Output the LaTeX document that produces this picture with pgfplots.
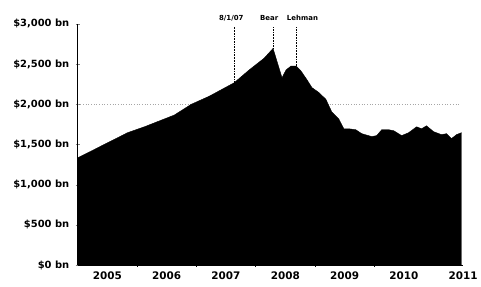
\documentclass[border=0pt]{standalone}
\usepackage{pgfplots}
\pgfplotsset{compat=1.18}
\usepackage{fontspec}
\setmainfont{DejaVu Sans}
\begin{document}
\begin{tikzpicture}
\begin{axis}[
  scale only axis,
  width=387bp, height=242bp,
  xmin=2005, xmax=2011.5,
  ymin=0, ymax=3000,
  axis x line*=bottom,
  axis y line*=left,
  axis line style={black, line width=0.6pt},
  clip=false,
  xtick={2006,2007,2008,2009,2010},
  xticklabels={},
  major x tick style={black, line width=0.5pt},
  extra x ticks={2005.5,2006.5,2007.5,2008.5,2009.5,2010.5,2011.5},
  extra x tick labels={2005,2006,2007,2008,2009,2010,2011},
  extra x tick style={major tick length=0pt, tick label style={font=\bfseries\fontsize{10.5}{12}\selectfont, yshift=-3pt}},
  ytick={0,500,1000,1500,2000,2500,3000},
  yticklabels={{\$0 bn},{\$500 bn},{\$1,000 bn},{\$1,500 bn},{\$2,000 bn},{\$2,500 bn},{\$3,000 bn}},
  yticklabel style={font=\bfseries\fontsize{10}{11}\selectfont, xshift=-3pt},
  tick align=center,
  major tick length=4pt,
]
\addplot[gray!70, dotted, line width=0.7pt] coordinates {(2005,2000) (2011.42,2000)};
\addplot[fill=black, draw=black, line width=0.4pt] coordinates {
(2005.000,1333) (2005.840,1646) (2006.126,1720) (2006.630,1866) (2006.916,2000)
(2007.218,2100) (2007.639,2268) (2007.891,2427) (2008.143,2573) (2008.294,2695)
(2008.445,2330) (2008.513,2427) (2008.597,2476) (2008.681,2476) (2008.765,2414)
(2008.866,2305) (2008.950,2207) (2009.067,2146) (2009.185,2061) (2009.286,1902)
(2009.403,1817) (2009.487,1695) (2009.571,1695) (2009.689,1683) (2009.790,1634)
(2009.958,1598) (2010.042,1610) (2010.126,1683) (2010.244,1683) (2010.328,1671)
(2010.462,1610) (2010.580,1646) (2010.714,1720) (2010.798,1695) (2010.882,1732)
(2011.000,1659) (2011.134,1622) (2011.218,1634) (2011.303,1573) (2011.387,1622)
(2011.471,1646)
} \closedcycle;
\addplot[black, densely dotted, line width=0.6pt] coordinates {(2007.639,2268) (2007.639,2960)};
\addplot[black, densely dotted, line width=0.6pt] coordinates {(2008.294,2695) (2008.294,2960)};
\addplot[black, densely dotted, line width=0.6pt] coordinates {(2008.681,2476) (2008.681,2960)};
\node[font=\bfseries\fontsize{7}{8}\selectfont, anchor=base] at (axis cs:2007.59,3045) {8/1/07};
\node[font=\bfseries\fontsize{7}{8}\selectfont, anchor=base] at (axis cs:2008.23,3045) {Bear};
\node[font=\bfseries\fontsize{7}{8}\selectfont, anchor=base] at (axis cs:2008.79,3045) {Lehman};
\end{axis}
\path (current axis.south west) ++(-78bp,-22bp) coordinate (bl);
\path (current axis.north east) ++(16bp,24bp) coordinate (tr);
\useasboundingbox (bl) rectangle (tr);
\end{tikzpicture}
\end{document}
